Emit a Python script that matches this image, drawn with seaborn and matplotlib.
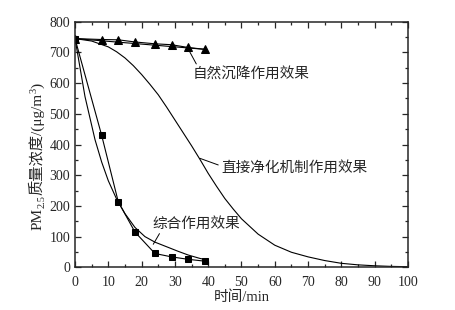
import numpy as np
import pandas as pd
import seaborn as sns
import matplotlib.pyplot as plt

# 数据
t_settle = [0, 8, 13, 18, 24, 29, 34, 39]
c_settle = [745, 742, 741, 734, 728, 725, 716, 710]

t_comb = [0, 8, 13, 18, 24, 29, 34, 39]
c_comb = [745, 430, 213, 115, 45, 34, 26, 20]

t_comb_fit = [0, 3, 6, 8, 10, 12.5, 15, 18, 21, 24, 27.5, 31, 34, 37.5, 40]
c_comb_fit = [745, 556, 416, 343, 282, 222, 175, 130, 100, 82, 67, 52, 40, 29, 23]

t_direct = [0, 5, 10, 12.5, 15, 17.5, 20, 22.5, 25, 27.5, 30, 32.5, 35, 37.5, 40, 42.5,
            45, 47.5, 50, 55, 60, 65, 70, 75, 80, 85, 90, 95, 100]
c_direct = [745, 737, 718, 702, 682, 657, 628, 596, 562, 522, 480, 438, 396, 352, 306, 264,
            224, 190, 158, 108, 72, 49, 34, 22, 13, 8, 5, 3, 2]

x_ticks = [0, 10, 20, 30, 40, 50, 60, 70, 80, 90, 100]
y_ticks = [0, 100, 200, 300, 400, 500, 600, 700, 800]

# y轴标题分段 (文字, 字号, 基线偏移px)
ylab_parts = [("PM", 11, 0), ("2.5", 7.5, 3), ("质量浓度/(μg/m", 11, 0), ("3", 7.5, -5), (")", 11, 0)]

sns.set_style("ticks")
plt.rcParams['font.family'] = ['Liberation Serif', 'Noto Sans CJK SC']

fig = plt.figure(figsize=(4.56, 3.10), dpi=100)
ax = fig.add_axes([0.1645, 0.1377, 0.7302, 0.7923])

sns.lineplot(x=t_direct, y=c_direct, ax=ax, color="black", lw=0.8, sort=False)
sns.lineplot(x=t_comb_fit, y=c_comb_fit, ax=ax, color="black", lw=0.8, sort=False)
sns.lineplot(x=t_comb, y=c_comb, ax=ax, color="black", lw=0.8, sort=False,
             marker="s", markersize=4.5, markeredgecolor="black")
sns.lineplot(x=t_settle, y=c_settle, ax=ax, color="black", lw=0.8, sort=False,
             marker="^", markersize=5.5, markeredgecolor="black")
ax.plot([t_settle[0], t_settle[-1]], [c_settle[0], c_settle[-1]], color="black", lw=0.8)

ax.set_xlim(0, 100)
ax.set_ylim(0, 800)
ax.set_xticks(x_ticks)
ax.set_yticks(y_ticks)
ax.set_xticks(np.arange(5, 100, 10), minor=True)
ax.set_yticks(np.arange(50, 800, 100), minor=True)
ax.tick_params(which="both", direction="in", top=True, right=True, labelsize=10, width=0.9)
ax.tick_params(axis="x", pad=6)
ax.tick_params(which="major", length=4)
ax.tick_params(which="minor", length=2.5)
for sp in ax.spines.values():
    sp.set_linewidth(1.1)
    sp.set_visible(True)

ax.set_xlabel("时间/min", fontsize=10.5, labelpad=1)

# 标注
ax.annotate("自然沉降作用效果", xy=(34.5, 701), xytext=(35.2, 629), fontsize=10.5,
            va="center", ha="left",
            arrowprops=dict(arrowstyle="-", color="black", lw=0.7, shrinkA=0, shrinkB=0,
                            relpos=(0.05, 1.0)))
ax.annotate("直接净化机制作用效果", xy=(37.5, 355), xytext=(44, 325), fontsize=10.5,
            va="center", ha="left",
            arrowprops=dict(arrowstyle="-", color="black", lw=0.7, shrinkA=0, shrinkB=0,
                            relpos=(0.0, 0.6)))
ax.annotate("综合作用效果", xy=(23.5, 75), xytext=(23.3, 143), fontsize=10.5,
            va="center", ha="left",
            arrowprops=dict(arrowstyle="-", color="black", lw=0.7, shrinkA=0, shrinkB=0,
                            relpos=(0.1, 0.0)))

# y轴标题: 逐段竖排绘制
renderer = fig.canvas.get_renderer()
W, H = fig.bbox.width, fig.bbox.height
base_x = 41.5
texts = []
for s, fs, off in ylab_parts:
    t = fig.text(0, 0, s, fontsize=fs, rotation=90, rotation_mode="anchor",
                 ha="left", va="baseline")
    texts.append((t, off))
lengths = [t.get_window_extent(renderer).height for t, _ in texts]
y = 153.5 - sum(lengths) / 2
for (t, off), ln in zip(texts, lengths):
    t.set_position(((base_x + off) / W, y / H))
    y += ln

fig.savefig("out.png", dpi=100)
